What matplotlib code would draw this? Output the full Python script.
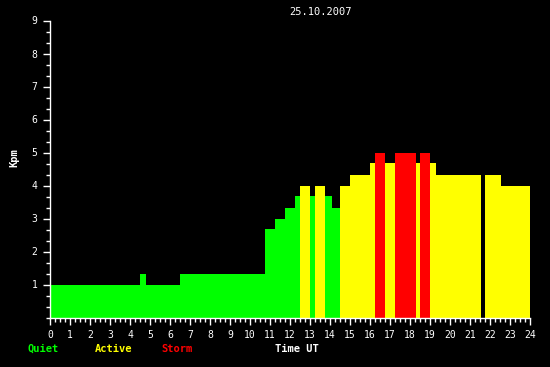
import matplotlib
matplotlib.use("Agg")
import matplotlib.pyplot as plt
from matplotlib.ticker import MultipleLocator
import numpy as np

# Data: segments of Kpm index (hours UT)
seg_start = [0, 4.5, 4.8, 6.5, 10.75, 11.25, 11.75, 12.25, 12.5, 13.0, 13.25, 13.75, 14.08,
             14.5, 15.0, 16.0, 16.25, 16.75, 17.25, 18.3, 18.5, 19.0, 19.3, 21.75, 22.55]
seg_end = [4.5, 4.8, 6.5, 10.75, 11.25, 11.75, 12.25, 12.5, 13.0, 13.25, 13.75, 14.08, 14.5,
           15.0, 16.0, 16.25, 16.75, 17.25, 18.3, 18.5, 19.0, 19.3, 21.55, 22.55, 24.0]
kpm = [1.0, 1.333, 1.0, 1.333, 2.667, 3.0, 3.333, 3.667, 4.0, 3.667, 4.0, 3.667, 3.333,
       4.0, 4.333, 4.667, 5.0, 4.667, 5.0, 4.667, 5.0, 4.667, 4.333, 4.333, 4.0]
x_ticks = list(range(0, 25))
y_ticks = list(range(1, 10))
title = "25.10.2007"

GREEN, YELLOW, RED = "#00ff00", "#ffff00", "#ff0000"

def level_color(v):
    if v >= 5:
        return RED
    if v >= 4:
        return YELLOW
    return GREEN

fig = plt.figure(figsize=(5.5, 3.67), dpi=100, facecolor="black")
ax = fig.add_axes([50/550, 1-317.5/367, 480/550, (317.5-20.5)/367])
ax.set_facecolor("black")

widths = np.array(seg_end) - np.array(seg_start)
ax.bar(seg_start, kpm, width=widths, align="edge",
       color=[level_color(v) for v in kpm], linewidth=0)

ax.set_xlim(0, 24)
ax.set_ylim(0, 9)
for s in ["top", "right"]:
    ax.spines[s].set_visible(False)
for s in ["left", "bottom"]:
    ax.spines[s].set_color("white")
    ax.spines[s].set_linewidth(1)

font = "DejaVu Sans Mono"
ax.set_xticks(x_ticks)
ax.set_xticklabels([str(t) for t in x_ticks], family=font, fontsize=7, color="white")
ax.set_yticks(y_ticks)
ax.set_yticklabels([str(t) for t in y_ticks], family=font, fontsize=7, color="white")
ax.xaxis.set_minor_locator(MultipleLocator(0.25))
ax.yaxis.set_minor_locator(MultipleLocator(1/3))
ax.tick_params(axis="both", which="major", colors="white", length=5, width=1, pad=4)
ax.tick_params(axis="both", which="minor", colors="white", length=3, width=1)

fig.text(320/550, 1-12/367, title, family=font, fontsize=7.5, color="white",
         ha="center", va="center")
fig.text(14/550, 1-158/367, "Kpm", family=font, fontsize=7.5, fontweight="bold",
         color="white", rotation=90, ha="center", va="center")

ly = 1-349/367
fig.text(28/550, ly, "Quiet", family=font, fontsize=7.5, fontweight="bold", color=GREEN, va="center")
fig.text(95/550, ly, "Active", family=font, fontsize=7.5, fontweight="bold", color=YELLOW, va="center")
fig.text(161/550, ly, "Storm", family=font, fontsize=7.5, fontweight="bold", color=RED, va="center")
fig.text(275/550, ly, "Time UT", family=font, fontsize=7.5, fontweight="bold", color="white", va="center")

fig.savefig("out.png", dpi=100, facecolor="black")
